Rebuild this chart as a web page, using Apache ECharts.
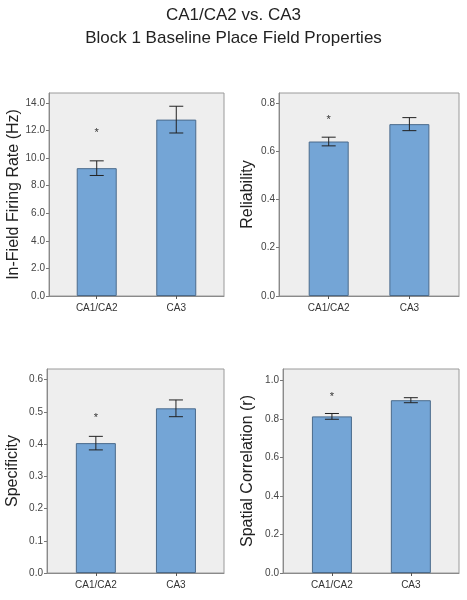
<!DOCTYPE html>
<html>
<head>
<meta charset="utf-8">
<script src="https://cdn.jsdelivr.net/npm/echarts@6/dist/echarts.min.js"></script>
<style>
html,body{margin:0;padding:0;background:#fff;}
#chart{width:467px;height:600px;}
</style>
</head>
<body>
<div id="chart"></div>
<script>
// ---- data ----
const categories = ['CA1/CA2', 'CA3'];
const titleLines = ['CA1/CA2 vs. CA3', 'Block 1 Baseline Place Field Properties'];

const firingRate = [9.27, 12.79];
const firingRateErr = [0.53, 0.97];
const firingRateStar = 11.8;

const reliability = [0.640, 0.712];
const reliabilityErr = [0.018, 0.027];
const reliabilityStar = 0.731;

const specificity = [0.403, 0.511];
const specificityErr = [0.021, 0.026];
const specificityStar = 0.481;

const spatialCorr = [0.813, 0.897];
const spatialCorrErr = [0.015, 0.013];
const spatialCorrStar = 0.914;

// ---- layout per panel ----
const panels = [
  {name: 'In-Field Firing Rate (Hz)', vals: firingRate, errs: firingRateErr, star: firingRateStar,
   grid: {left: 49, top: 93, width: 175, height: 203}, ymax: 14.72, interval: 2, xmin: -0.6, xmax: 1.6, nameGap: 27},
  {name: 'Reliability', vals: reliability, errs: reliabilityErr, star: reliabilityStar,
   grid: {left: 279, top: 93, width: 180, height: 203}, ymax: 0.841, interval: 0.2, xmin: -0.616, xmax: 1.615, nameGap: 23},
  {name: 'Specificity', vals: specificity, errs: specificityErr, star: specificityStar,
   grid: {left: 47, top: 369, width: 177, height: 204}, ymax: 0.633, interval: 0.1, xmin: -0.61, xmax: 1.6, nameGap: 26},
  {name: 'Spatial Correlation (r)', vals: spatialCorr, errs: spatialCorrErr, star: spatialCorrStar,
   grid: {left: 283, top: 369, width: 176, height: 204}, ymax: 1.059, interval: 0.2, xmin: -0.62, xmax: 1.61, nameGap: 27}
];

const FONT = '"Liberation Sans", Arial, sans-serif';
const grids = [], xAxes = [], yAxes = [], series = [];

panels.forEach((p, i) => {
  grids.push(Object.assign({show: true, containLabel: false, outerBoundsMode: 'none',
    backgroundColor: '#eeeeee', borderColor: '#9a9a9a', borderWidth: 1}, p.grid));
  xAxes.push({
    type: 'value', gridIndex: i, min: p.xmin, max: p.xmax,
    splitLine: {show: false},
    axisLine: {show: true, onZero: false, lineStyle: {color: '#8a8a8a'}},
    axisTick: {show: true, length: 3, customValues: [0, 1], lineStyle: {color: '#555'}},
    axisLabel: {customValues: [0, 1], formatter: v => categories[Math.round(v)] || '',
      fontFamily: FONT, fontSize: 10, color: '#333', margin: 7}
  });
  yAxes.push({
    type: 'value', gridIndex: i, min: 0, max: p.ymax, interval: p.interval,
    name: p.name, nameLocation: 'middle', nameGap: p.nameGap,
    nameTextStyle: {fontFamily: FONT, fontSize: 16, color: '#222'},
    splitLine: {show: false},
    axisLine: {show: true, onZero: false, lineStyle: {color: '#8a8a8a'}},
    axisTick: {show: true, length: 3, lineStyle: {color: '#777'}},
    axisLabel: {showMaxLabel: false, fontFamily: FONT, fontSize: 10, color: '#444', margin: 4,
      formatter: v => v.toFixed(1)}
  });
  series.push({
    type: 'bar', xAxisIndex: i, yAxisIndex: i, barWidth: 40,
    itemStyle: {color: '#74a5d6', borderColor: '#4b6b8c', borderWidth: 1},
    data: p.vals.map((v, k) => [k, v]), z: 2
  });
  series.push({
    type: 'custom', xAxisIndex: i, yAxisIndex: i, z: 5,
    data: p.vals.map((v, k) => [k, v - p.errs[k], v + p.errs[k]]),
    renderItem: (params, api) => {
      const lo = api.coord([api.value(0), api.value(1)]);
      const hi = api.coord([api.value(0), api.value(2)]);
      const w = 7;
      const st = {stroke: '#222', lineWidth: 1};
      return {type: 'group', children: [
        {type: 'line', shape: {x1: lo[0], y1: lo[1], x2: hi[0], y2: hi[1]}, style: st},
        {type: 'line', shape: {x1: lo[0] - w, y1: lo[1], x2: lo[0] + w, y2: lo[1]}, style: st},
        {type: 'line', shape: {x1: hi[0] - w, y1: hi[1], x2: hi[0] + w, y2: hi[1]}, style: st}
      ]};
    }
  });
  series.push({
    type: 'custom', xAxisIndex: i, yAxisIndex: i, z: 5,
    data: [[0, p.star]],
    renderItem: (params, api) => {
      const c = api.coord([api.value(0), api.value(1)]);
      return {type: 'text', x: c[0], y: c[1],
        style: {text: '*', fontFamily: FONT, fontSize: 11, fill: '#333', align: 'center', verticalAlign: 'middle'}};
    }
  });
});

const chart = echarts.init(document.getElementById('chart'), null, {renderer: 'canvas'});
chart.setOption({
  animation: false,
  title: {text: titleLines.join('\n'), left: 'center', top: -1,
    textStyle: {fontFamily: FONT, fontSize: 17, fontWeight: 'normal', color: '#222', lineHeight: 23}},
  grid: grids, xAxis: xAxes, yAxis: yAxes, series: series
});
</script>
</body>
</html>
